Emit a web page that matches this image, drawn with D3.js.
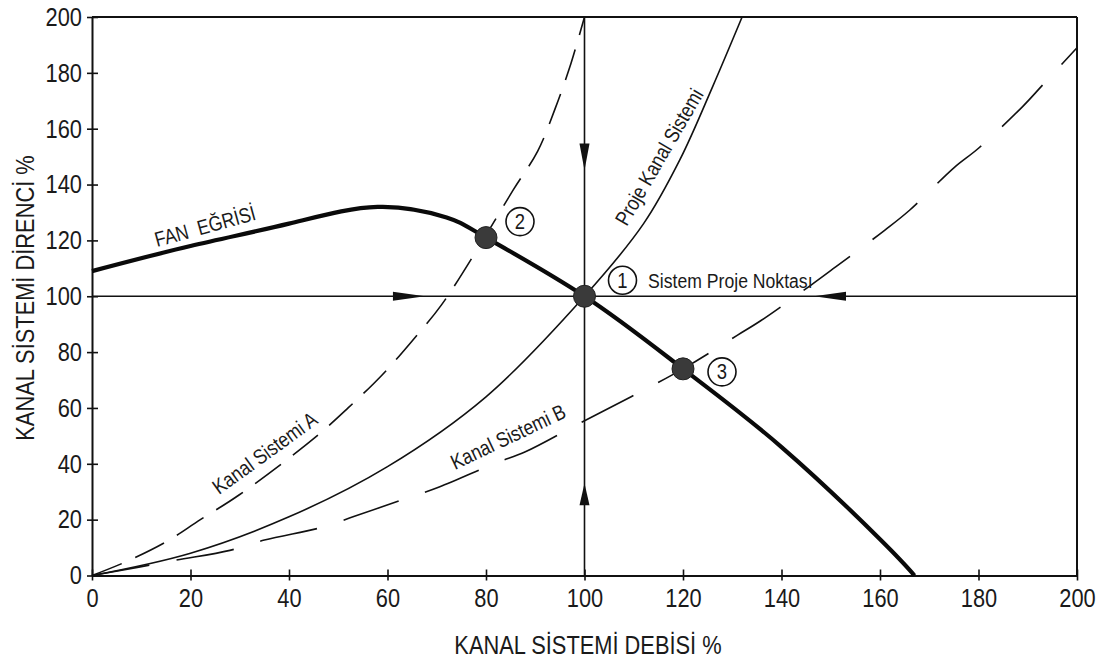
<!DOCTYPE html>
<html><head><meta charset="utf-8">
<script src="https://cdn.jsdelivr.net/npm/d3@7"></script>
<style>
body{margin:0;background:#fff}
svg{display:block}
text{font-family:"Liberation Sans",Arial,Helvetica,sans-serif;fill:#1a1a1a}
</style>
</head><body>
<svg id="c" width="1108" height="659"></svg>
<script>
// ---- data ----
const xTicks = [0,20,40,60,80,100,120,140,160,180,200];
const yTicks = [0,20,40,60,80,100,120,140,160,180,200];
const xTitle = "KANAL SİSTEMİ DEBİSİ %";
const yTitle = "KANAL SİSTEMİ DİRENCİ %";

// fan curve (flow %, resistance %)
const fanCurve = [[0,109],[20,118],[40,126],[58,132],[72,128.2],[80,121],[100,100],[120,74],[140,46],[160,13],[167,0]];
// design duct system curve
const designSystem = [[0,0],[20,8],[40,21],[60,39],[80,64],[100,100],[112,126],[119.4,149],[126,175],[132,200]];
// duct system A (dashed)
const systemA = [[0,0],[7,5],[15,12],[22,20],[30,29],[45,49],[52,60],[59,72],[65,84],[71,97],[79,119],[85.5,138],[90.5,152],[94,167],[97,182],[100,200]];
// duct system B (dashed)
const systemB = [[0,0],[9.5,3],[17,5.5],[28,9],[35,12.7],[47,17.4],[53,21],[64,27.7],[70.5,31.7],[82,40.3],[88,44.3],[98.5,54],[120,74],[131,86],[136,91.5],[146,104],[151,110.5],[161,123.7],[166,130.8],[175,146],[180,153],[189,168],[193,175.6],[200,189]];
// operating points
const pointIds = ["1","2","3"];
const pointX = [100,80,120];
const pointY = [100,121,74];
// design point reference lines
const designFlow = 100, designResistance = 100;
// arrow tips on the reference lines (value along the line)
const hArrowTips = [67.6,146.6];
const vArrowTips = [145,33];
// curve labels
const labelTexts = ["FAN  EĞRİSİ","Proje Kanal Sistemi","Kanal Sistemi A","Kanal Sistemi B","Sistem Proje Noktası"];
const labelAnchorX = [13.2,108.6,25.8,73.7,112.9];
const labelAnchorY = [117.6,124.8,28.8,37.8,103];

// ---- layout / style ----
const labelAngles = [-15.4,-59.8,-35.9,-25.3,0];
const badgeOffsets = [[38,-16],[34,-16],[39,3]];
const SX = 0.84;

const svg = d3.select("#c");
const x = d3.scaleLinear().domain([0,200]).range([92,1077]);
const y = d3.scaleLinear().domain([0,200]).range([575.5,17]);

// frame (top and right)
svg.append("line").attr("x1",x(0)).attr("x2",x(200)).attr("y1",y(200)).attr("y2",y(200)).attr("stroke","#111").attr("stroke-width",2);
svg.append("line").attr("x1",x(200)).attr("x2",x(200)).attr("y1",y(200)).attr("y2",y(0)).attr("stroke","#111").attr("stroke-width",2);

// axes
const gy = svg.append("g").attr("transform",`translate(${x(0)},0)`)
  .call(d3.axisLeft(y).tickValues(yTicks).tickSizeInner(5).tickSizeOuter(0).tickFormat(d3.format("d")));
gy.select(".domain").attr("stroke","#111").attr("stroke-width",2);
gy.selectAll(".tick line").attr("x1",6).attr("stroke","#111").attr("stroke-width",1.6);
gy.selectAll(".tick text").attr("font-size",26).attr("font-family","Liberation Sans, Arial, sans-serif")
  .attr("fill","#1a1a1a").attr("x",-10/SX).attr("transform",`scale(${SX},1)`);

const gx = svg.append("g").attr("transform",`translate(0,${y(0)})`)
  .call(d3.axisBottom(x).tickValues(xTicks).tickSizeInner(5).tickSizeOuter(0).tickFormat(d3.format("d")));
gx.select(".domain").attr("stroke","#111").attr("stroke-width",2);
gx.selectAll(".tick line").attr("y1",-6).attr("stroke","#111").attr("stroke-width",1.6);
gx.selectAll(".tick text").attr("font-size",26).attr("font-family","Liberation Sans, Arial, sans-serif")
  .attr("fill","#1a1a1a").attr("y",13).attr("transform",`scale(${SX},1)`);

// axis titles
svg.append("text").attr("transform",`translate(588,654) scale(${SX},1)`).attr("text-anchor","middle")
  .attr("font-size",26).text(xTitle);
svg.append("text").attr("transform",`translate(34,298) rotate(-90) scale(${SX},1)`).attr("text-anchor","middle")
  .attr("font-size",26).text(yTitle);

// reference lines through design point
svg.append("line").attr("x1",x(0)).attr("x2",x(200)).attr("y1",y(designResistance)).attr("y2",y(designResistance))
  .attr("stroke","#111").attr("stroke-width",1.6);
svg.append("line").attr("x1",x(designFlow)).attr("x2",x(designFlow)).attr("y1",y(0)).attr("y2",y(200))
  .attr("stroke","#111").attr("stroke-width",1.6);

// arrowheads pointing toward design point
function arrow(tx,ty,dx,dy,len,hw){
  const bx = tx - dx*len, by = ty - dy*len;
  const px = -dy*hw, py = dx*hw;
  svg.append("path").attr("d",`M${tx},${ty}L${bx+px},${by+py}L${bx-px},${by-py}Z`).attr("fill","#111");
}
hArrowTips.forEach(v=>{
  const dir = v < designFlow ? 1 : -1;
  arrow(x(v), y(designResistance), dir, 0, 32, 4.5);
});
vArrowTips.forEach(v=>{
  const dir = v > designResistance ? 1 : -1;
  arrow(x(designFlow), y(v), 0, dir, v>designResistance?27:22, 5);
});

const line = d3.line().x(d=>x(d[0])).y(d=>y(d[1])).curve(d3.curveCatmullRom.alpha(0.5));
const smooth = d3.line().x(d=>x(d[0])).y(d=>y(d[1])).curve(d3.curveNatural);

// system curves
svg.append("path").attr("d",line(designSystem)).attr("fill","none").attr("stroke","#111").attr("stroke-width",1.6);
svg.append("path").attr("d",line(systemA)).attr("fill","none").attr("stroke","#111").attr("stroke-width",1.6)
  .attr("stroke-dasharray","32,15");
svg.append("path").attr("d",line(systemB)).attr("fill","none").attr("stroke","#111").attr("stroke-width",1.6)
  .attr("stroke-dasharray","58,28");

// fan curve
svg.append("path").attr("d",smooth(fanCurve)).attr("fill","none").attr("stroke","#0a0a0a").attr("stroke-width",4.2)
  .attr("stroke-linecap","butt");

// operating points
pointIds.forEach((id,i)=>{
  const cx = x(pointX[i]), cy = y(pointY[i]);
  svg.append("circle").attr("cx",cx).attr("cy",cy).attr("r",11).attr("fill","#3a3a3a").attr("stroke","#222").attr("stroke-width",1);
  const bx = cx + badgeOffsets[i][0], by = cy + badgeOffsets[i][1];
  svg.append("circle").attr("cx",bx).attr("cy",by).attr("r",14).attr("fill","#fff").attr("stroke","#111").attr("stroke-width",1.6);
  svg.append("text").attr("transform",`translate(${bx},${by+7.5}) scale(${SX},1)`).attr("text-anchor","middle")
    .attr("font-size",22).text(id);
});

// curve labels
labelTexts.forEach((t,i)=>{
  svg.append("text")
    .attr("transform",`translate(${x(labelAnchorX[i])},${y(labelAnchorY[i])}) rotate(${labelAngles[i]}) scale(${SX},1)`)
    .attr("font-size",21).attr("xml:space","preserve").style("white-space","pre").text(t);
});
</script>
</body></html>
